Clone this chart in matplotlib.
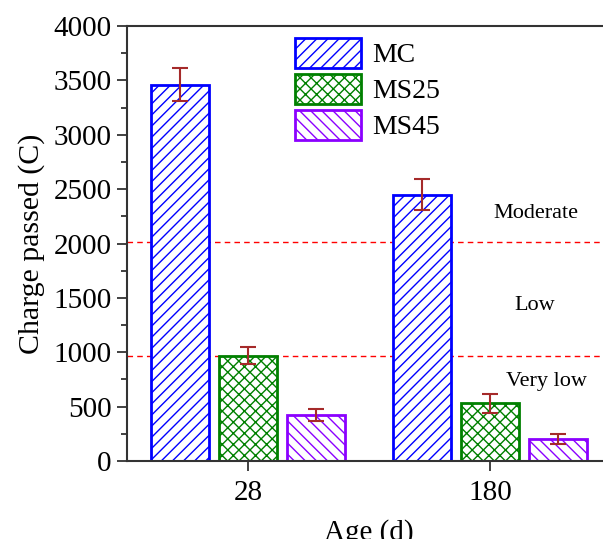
import matplotlib
matplotlib.use("Agg")
import matplotlib.pyplot as plt
from matplotlib.ticker import MultipleLocator
import numpy as np

ages = ["28", "180"]
series = ["MC", "MS25", "MS45"]
values = {"MC": [3460, 2450], "MS25": [970, 530], "MS45": [425, 205]}
errors = {"MC": [150, 140], "MS25": [80, 85], "MS45": [55, 45]}
colors = {"MC": "#0000ff", "MS25": "#008000", "MS45": "#8b00ff"}
hatches = {"MC": "///", "MS25": "xxx", "MS45": "\\\\\\"}
levels = [2010, 970]
level_labels = [("Moderate", 1.19, 2272), ("Low", 1.185, 1432), ("Very low", 1.235, 727)]

plt.rcParams["font.family"] = ["Liberation Serif", "DejaVu Serif"]
plt.rcParams["hatch.linewidth"] = 1.0

fig = plt.figure(figsize=(6.03, 5.39), dpi=100)
ax = fig.add_axes([127/603, (539-461)/539, 484/603, 435/539])

x = np.arange(len(ages))
w = 0.236
step = 0.281
for i, s in enumerate(series):
    pos = x + (i - 1) * step
    ax.bar(pos, values[s], width=w, facecolor="white", edgecolor=colors[s],
           hatch=hatches[s], linewidth=2, label=s, zorder=2)
    ax.errorbar(pos, values[s], yerr=errors[s], fmt="none", ecolor="#a52a2a",
                elinewidth=1.5, capsize=6, capthick=1.5, zorder=3)

for lv in levels:
    ax.axhline(lv, color="#ff0000", linestyle=(0, (4, 3)), linewidth=1, zorder=1)
for txt, xv, yv in level_labels:
    ax.text(xv, yv, txt, ha="center", va="center", fontsize=16)

ax.set_xlim(-0.5, 1.5)
ax.set_ylim(0, 4000)
ax.set_xticks(x)
ax.set_xticklabels(ages)
ax.yaxis.set_major_locator(MultipleLocator(500))
ax.yaxis.set_minor_locator(MultipleLocator(250))
ax.tick_params(axis="both", which="major", direction="out", length=7, width=1.3,
               labelsize=21, color="#333333")
ax.tick_params(axis="x", which="major", pad=7)
ax.tick_params(axis="y", which="major", pad=4)
ax.tick_params(axis="y", which="minor", direction="out", length=4, width=1.3,
               color="#333333")
ax.tick_params(axis="x", which="minor", bottom=False)
for sp in ["left", "bottom", "top"]:
    ax.spines[sp].set_linewidth(1.5)
    ax.spines[sp].set_color("#333333")
ax.spines["right"].set_visible(False)

ax.set_ylabel("Charge passed (C)", fontsize=21.5, labelpad=6)
ax.set_xlabel("Age (d)", fontsize=21, labelpad=9)

ax.legend(loc="upper left", bbox_to_anchor=(292/603, 1 - 35/539),
          bbox_transform=fig.transFigure, frameon=False, fontsize=20,
          handlelength=2.4, handleheight=1.3, labelspacing=0.2,
          handletextpad=0.4, borderaxespad=0, borderpad=0.1)

fig.savefig("out.png", dpi=100)
